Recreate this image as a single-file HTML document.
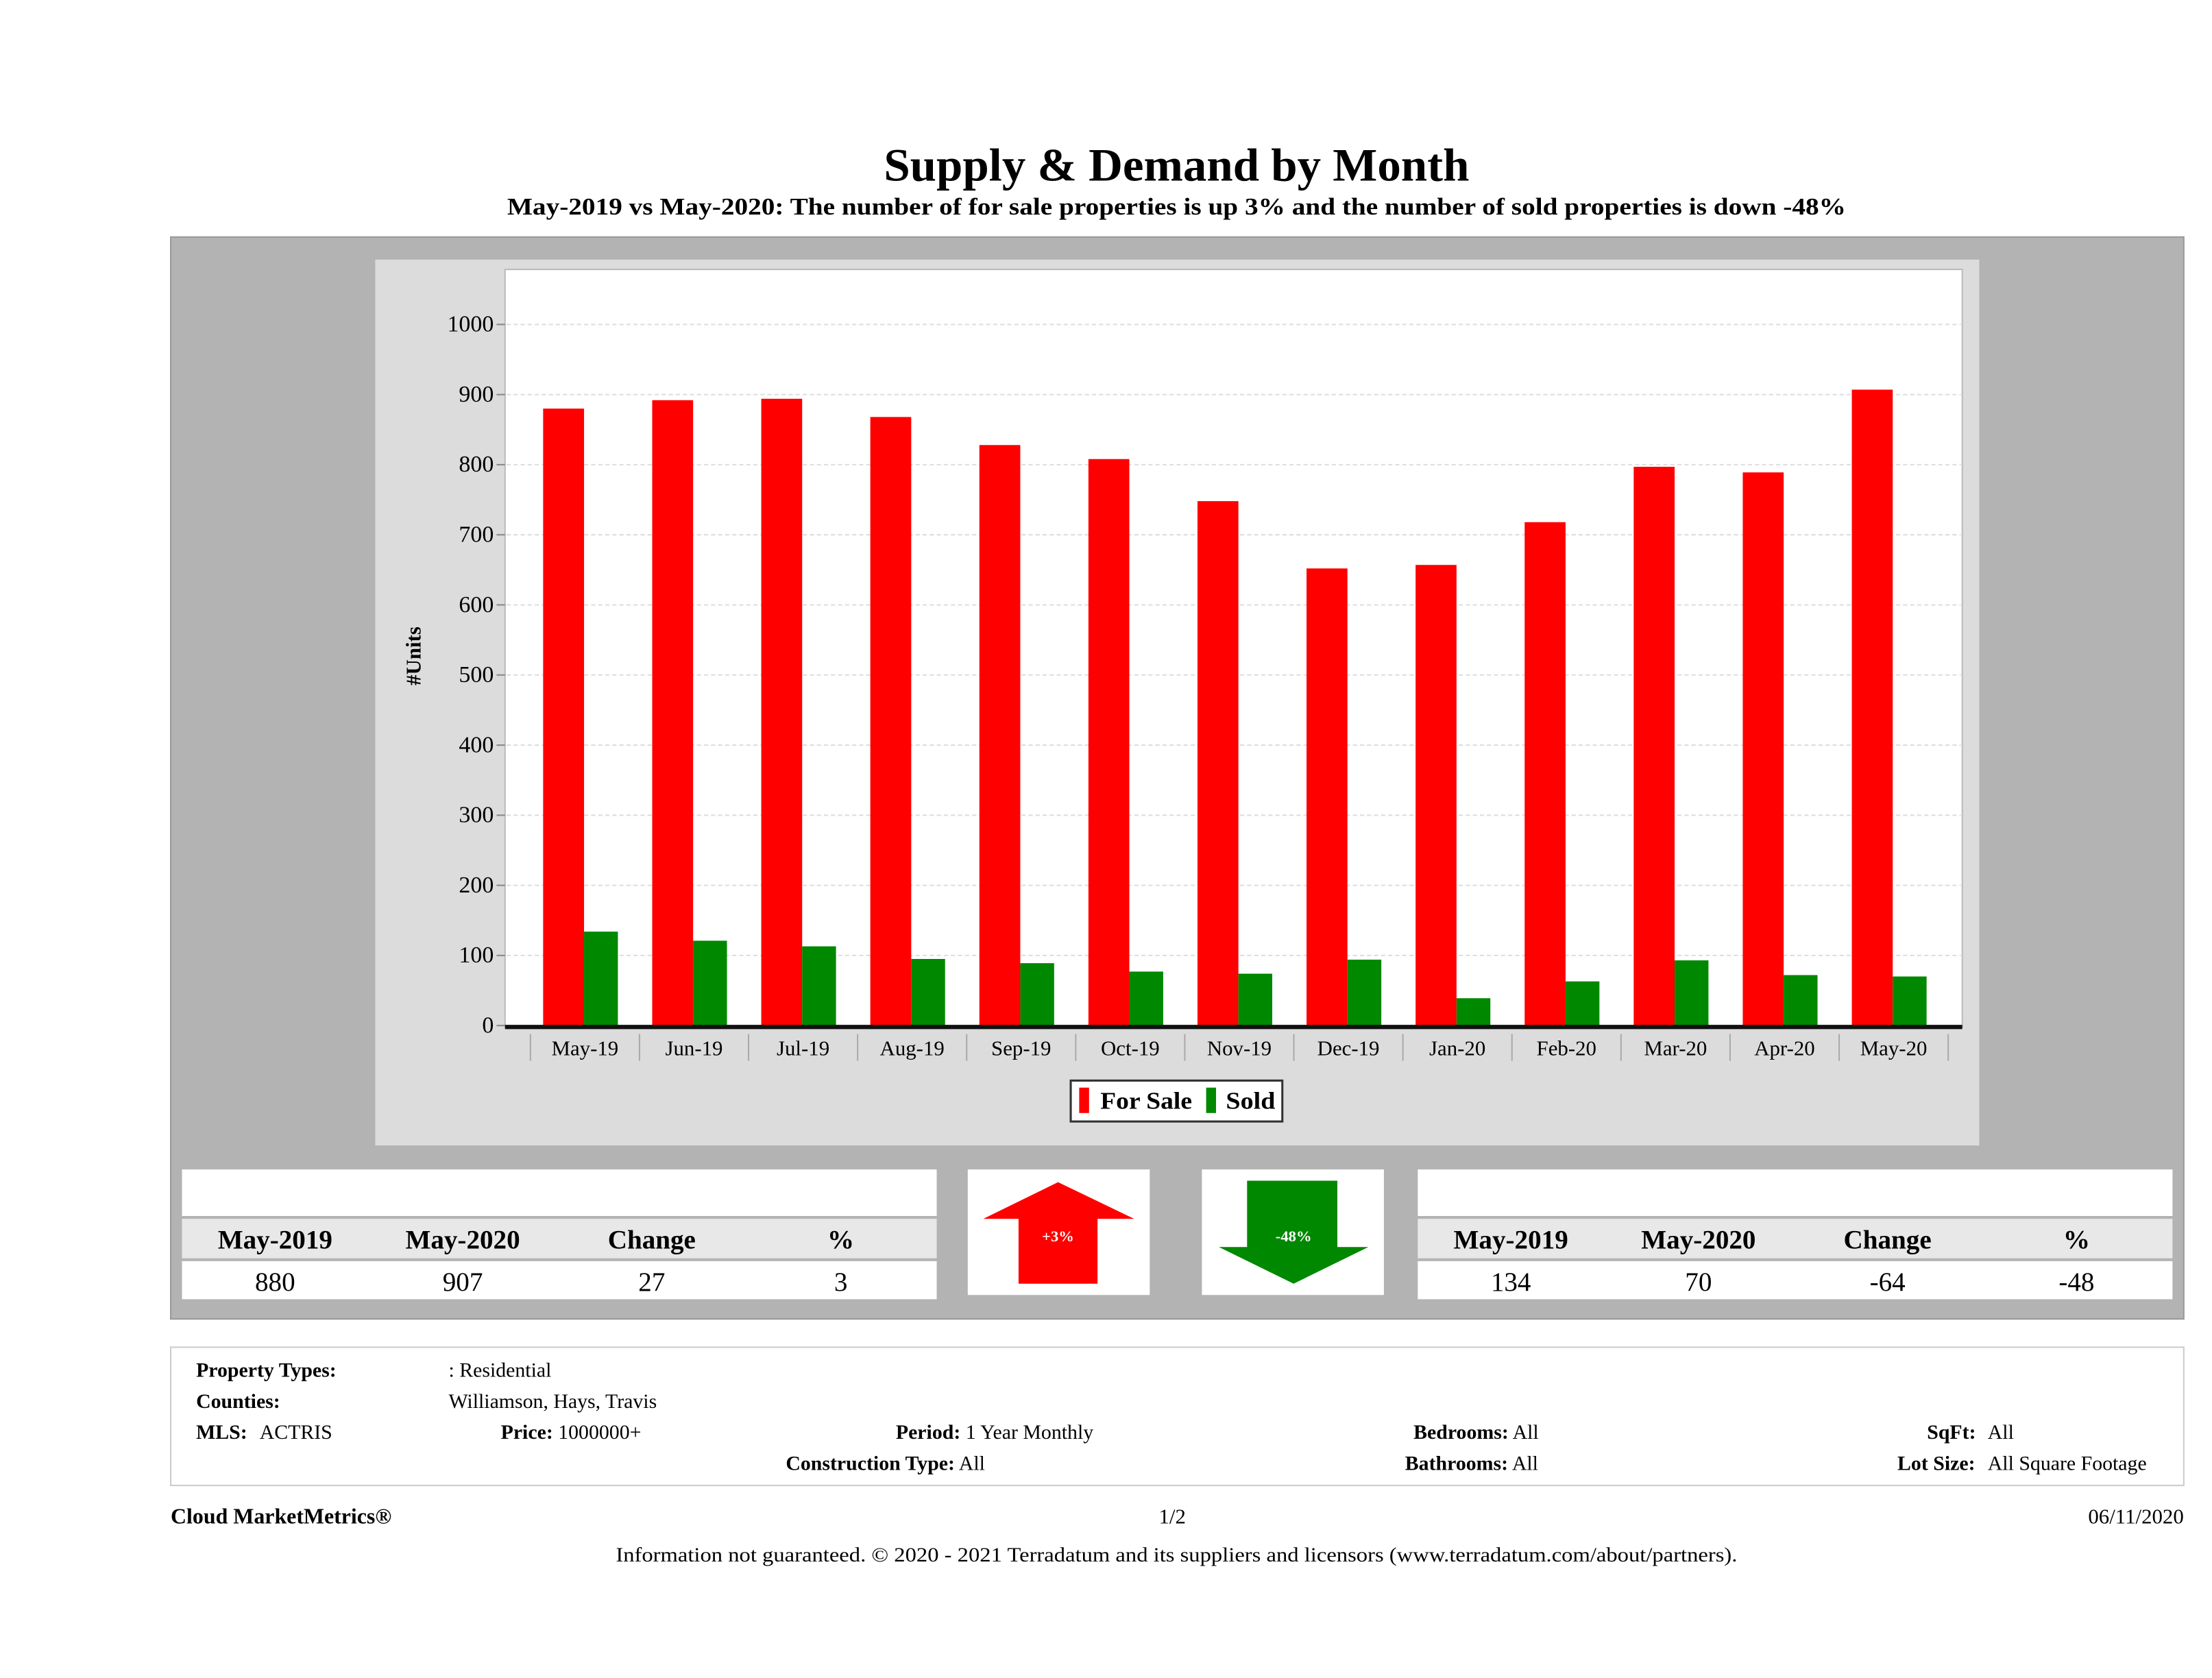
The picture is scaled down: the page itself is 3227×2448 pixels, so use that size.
<!DOCTYPE html>
<html><head><meta charset="utf-8"><style>
html,body{margin:0;padding:0;background:#fff;width:3227px;height:2448px;overflow:hidden}
svg{display:block}
text{font-family:"Liberation Serif",serif}
</style></head><body>
<svg id="root" width="3227" height="2448" viewBox="0 0 1568 1189.5" xmlns="http://www.w3.org/2000/svg">
<text x="834" y="128" text-anchor="middle" font-size="33" font-weight="bold" textLength="415" lengthAdjust="spacingAndGlyphs">Supply &amp; Demand by Month</text>
<text x="834" y="152" text-anchor="middle" font-size="17" font-weight="bold" textLength="949" lengthAdjust="spacingAndGlyphs">May-2019 vs May-2020: The number of for sale properties is up 3% and the number of sold properties is down -48%</text>
<rect x="121" y="168" width="1427" height="767" fill="#b3b3b3" stroke="#999"/>
<rect x="266" y="184" width="1137" height="628" fill="#dcdcdc"/>
<rect x="358" y="191" width="1033" height="537" fill="#fff" stroke="#bbb"/>
<g id="grid"></g>
<g id="bars"></g>
<g id="xaxis"></g>
<text transform="translate(298,465) rotate(-90)" text-anchor="middle" font-size="15" font-weight="bold">#Units</text>
<g>
<rect x="759" y="766" width="150" height="29" fill="#fff" stroke="#333" stroke-width="1.5"/>
<rect x="765" y="771" width="7" height="18" fill="#f00"/>
<text x="780" y="786" font-size="17" font-weight="bold" textLength="65" lengthAdjust="spacingAndGlyphs">For Sale</text>
<rect x="855" y="771" width="7" height="18" fill="#080"/>
<text x="869" y="786" font-size="17" font-weight="bold" textLength="35" lengthAdjust="spacingAndGlyphs">Sold</text>
</g>
<g>
<rect x="129" y="829" width="535" height="33" fill="#fff"/>
<rect x="129" y="864" width="535" height="28" fill="#e8e8e8"/>
<rect x="129" y="894" width="535" height="27" fill="#fff"/>
<g font-size="19" font-weight="bold" text-anchor="middle">
<text x="195" y="885">May-2019</text><text x="328" y="885">May-2020</text><text x="462" y="885">Change</text><text x="596" y="885">%</text></g>
<g font-size="19" text-anchor="middle">
<text x="195" y="915">880</text><text x="328" y="915">907</text><text x="462" y="915">27</text><text x="596" y="915">3</text></g>
</g>
<g>
<rect x="1005" y="829" width="535" height="33" fill="#fff"/>
<rect x="1005" y="864" width="535" height="28" fill="#e8e8e8"/>
<rect x="1005" y="894" width="535" height="27" fill="#fff"/>
<g font-size="19" font-weight="bold" text-anchor="middle">
<text x="1071" y="885">May-2019</text><text x="1204" y="885">May-2020</text><text x="1338" y="885">Change</text><text x="1472" y="885">%</text></g>
<g font-size="19" text-anchor="middle">
<text x="1071" y="915">134</text><text x="1204" y="915">70</text><text x="1338" y="915">-64</text><text x="1472" y="915">-48</text></g>
</g>
<g>
<rect x="686" y="829" width="129" height="89" fill="#fff"/>
<polygon points="750,838 804,864 778,864 778,910 722,910 722,864 697,864" fill="#f00"/>
<text x="750" y="880" text-anchor="middle" font-size="11" font-weight="bold" fill="#fff">+3%</text>
</g>
<g>
<rect x="852" y="829" width="129" height="89" fill="#fff"/>
<polygon points="884,837 948,837 948,884 970,884 917,910 864,884 884,884" fill="#080"/>
<text x="917" y="880" text-anchor="middle" font-size="11" font-weight="bold" fill="#fff">-48%</text>
</g>
<g>
<rect x="121" y="955" width="1427" height="98" fill="#fff" stroke="#ccc"/>
<g font-size="14.5">
<text x="139" y="976" font-weight="bold">Property Types:</text><text x="318" y="976">: Residential</text>
<text x="139" y="998" font-weight="bold">Counties:</text><text x="318" y="998">Williamson, Hays, Travis</text>
<text x="139" y="1020"><tspan font-weight="bold">MLS:</tspan><tspan x="184">ACTRIS</tspan></text>
<text x="355" y="1020"><tspan font-weight="bold">Price:</tspan> 1000000+</text>
<text x="635" y="1020"><tspan font-weight="bold">Period:</tspan> 1 Year Monthly</text>
<text x="557" y="1042"><tspan font-weight="bold">Construction Type:</tspan> All</text>
<text x="1002" y="1020"><tspan font-weight="bold">Bedrooms:</tspan> All</text>
<text x="996" y="1042"><tspan font-weight="bold">Bathrooms:</tspan> All</text>
<text x="1366" y="1020"><tspan font-weight="bold">SqFt:</tspan><tspan x="1409">All</tspan></text>
<text x="1345" y="1042"><tspan font-weight="bold">Lot Size:</tspan><tspan x="1409">All Square Footage</tspan></text>
</g></g>
<text x="121" y="1080" font-size="15.5" font-weight="bold">Cloud MarketMetrics®</text>
<text x="831" y="1080" font-size="15" text-anchor="middle">1/2</text>
<text x="1548" y="1080" font-size="15" text-anchor="end">06/11/2020</text>
<text x="834" y="1107" font-size="14.5" text-anchor="middle" textLength="795" lengthAdjust="spacingAndGlyphs">Information not guaranteed. © 2020 - 2021 Terradatum and its suppliers and licensors (www.terradatum.com/about/partners).</text>
</svg>
<script>
const categories = ["May-19","Jun-19","Jul-19","Aug-19","Sep-19","Oct-19","Nov-19","Dec-19","Jan-20","Feb-20","Mar-20","Apr-20","May-20"];
const forSale = [880,892,894,868,828,808,748,652,657,718,797,789,907];
const sold = [134,121,113,95,89,77,74,94,39,63,93,72,70];
const yTicks = [0,100,200,300,400,500,600,700,800,900,1000];
const NS="http://www.w3.org/2000/svg";
const x0=376, step=(1381-376)/13, yZero=727, pxPerUnit=(727-230)/1000;
const y=v=>yZero-v*pxPerUnit;
const xc=i=>x0+i*step;
function mk(tag,attrs,parent){const e=document.createElementNS(NS,tag);for(const k in attrs)e.setAttribute(k,attrs[k]);parent.appendChild(e);return e;}
const grid=document.getElementById('grid'),bars=document.getElementById('bars'),xa=document.getElementById('xaxis');
yTicks.forEach(t=>{
  if(t>0){const l=mk('line',{x1:359,x2:1390,y1:y(t),y2:y(t),stroke:'#ddd','stroke-dasharray':'3,2'},grid);
  
  }
  const tk=mk('line',{x1:352,x2:358,y1:y(t),y2:y(t),stroke:'#888'},grid);
  
  
  const tx=mk('text',{x:350,y:y(t)+5,'text-anchor':'end','font-size':'16.5'},grid);
  tx.textContent=t;
  
  
});
categories.forEach((c,i)=>{
  const r=mk('rect',{x:xc(i)+9,y:y(forSale[i]),width:29,height:forSale[i]*pxPerUnit,fill:'#f00'},bars);
  
  
  const g=mk('rect',{x:xc(i)+38,y:y(sold[i]),width:24,height:sold[i]*pxPerUnit,fill:'#080'},bars);
  
  
  const s=mk('line',{x1:xc(i),x2:xc(i),y1:733,y2:752,stroke:'#aaa'},xa);
  
  
  const t=mk('text',{x:xc(i)+step/2,y:748,'text-anchor':'middle','font-size':'15'},xa);
  t.textContent=c;
  
  
});
const e=mk('line',{x1:xc(13),x2:xc(13),y1:733,y2:752,stroke:'#aaa'},xa);


const ax=mk('line',{x1:358,x2:1391,y1:yZero+1,y2:yZero+1,stroke:'#111','stroke-width':3},xa);


</script>
</body></html>
